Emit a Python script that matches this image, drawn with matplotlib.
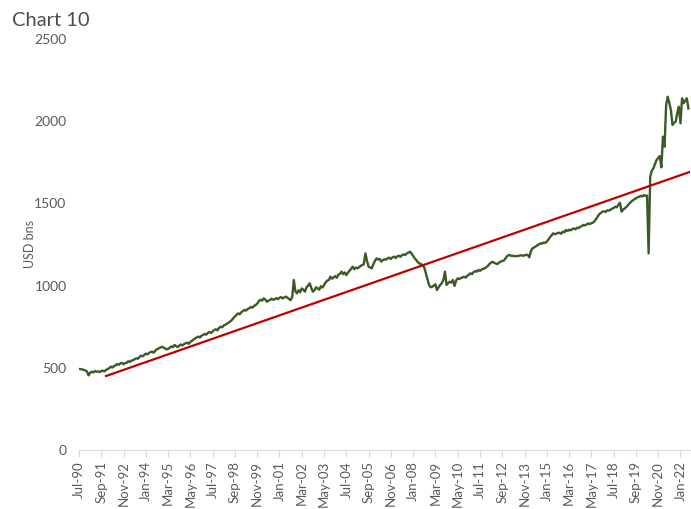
import pandas as pd
import numpy as np
import matplotlib
matplotlib.use('Agg')
import matplotlib.pyplot as plt

# monthly series, Jul-90 .. Jun-22 (USD bns), one row per Jul-Jun year
values = [
    493, 492, 490, 487, 484, 478, 454, 470, 476, 472, 480, 476,
    478, 474, 480, 483, 478, 487, 492, 498, 507, 502, 510, 515,
    523, 518, 526, 530, 522, 528, 531, 540, 536, 544, 547, 552,
    558, 555, 566, 574, 570, 578, 586, 582, 590, 596, 598, 592,
    605, 612, 618, 622, 628, 624, 618, 612, 615, 622, 630, 625,
    639, 632, 626, 635, 642, 636, 644, 649, 653, 646, 658, 664,
    672, 679, 685, 690, 684, 695, 700, 706, 702, 712, 718, 712,
    722, 730, 734, 728, 742, 750, 746, 758, 762, 768, 775, 781,
    790, 802, 812, 822, 831, 826, 838, 845, 852, 848, 858, 862,
    870, 866, 876, 882, 890, 905, 914, 908, 922, 916, 902, 908,
    912, 920, 914, 916, 924, 918, 926, 930, 922, 928, 933, 926,
    918, 912, 930, 1034, 965, 953, 972, 960, 983, 975, 963, 990,
    1000, 1014, 985, 963, 972, 990, 983, 975, 996, 988, 1004, 1020,
    1030, 1034, 1054, 1042, 1050, 1058, 1048, 1066, 1072, 1085, 1070, 1080,
    1064, 1078, 1090, 1102, 1115, 1100, 1110, 1105, 1112, 1120, 1125, 1130,
    1196, 1150, 1115, 1110, 1105, 1130, 1150, 1166, 1158, 1162, 1146, 1155,
    1160, 1158, 1166, 1170, 1162, 1172, 1176, 1168, 1178, 1182, 1175, 1185,
    1190, 1186, 1196, 1200, 1206, 1195, 1180, 1166, 1155, 1142, 1135, 1130,
    1125, 1110, 1075, 1040, 1004, 990, 993, 1000, 1008, 973, 990, 1004,
    1015, 1034, 1085, 1004, 1015, 1024, 1018, 1034, 998, 1030, 1044, 1040,
    1046, 1050, 1054, 1048, 1060, 1066, 1075, 1070, 1082, 1088, 1085, 1095,
    1090, 1098, 1102, 1105, 1112, 1120, 1132, 1140, 1145, 1138, 1134, 1131,
    1140, 1146, 1150, 1152, 1165, 1178, 1186, 1184, 1180, 1182, 1178, 1180,
    1180, 1183, 1185, 1181, 1184, 1188, 1186, 1172, 1210, 1227, 1232, 1238,
    1245, 1250, 1257, 1255, 1262, 1260, 1267, 1280, 1295, 1305, 1318, 1312,
    1316, 1320, 1322, 1315, 1328, 1324, 1338, 1332, 1340, 1336, 1344, 1348,
    1342, 1352, 1350, 1358, 1362, 1369, 1366, 1372, 1378, 1374, 1380, 1383,
    1392, 1405, 1420, 1435, 1442, 1450, 1452, 1448, 1458, 1456, 1462, 1468,
    1472, 1480, 1476, 1492, 1504, 1450, 1462, 1470, 1478, 1490, 1500, 1510,
    1518, 1525, 1530, 1537, 1540, 1546, 1542, 1551, 1545, 1548, 1196, 1662,
    1700, 1713, 1740, 1764, 1776, 1788, 1719, 1906, 1845, 2098, 2149, 2110,
    2068, 1977, 1990, 1997, 2050, 2088, 1987, 2139, 2109, 2125, 2139, 2078,
]

# linear trend: start month index/value and end month index/value
trend_x = [17, 384]
trend_y = [450, 1692]

dates = pd.date_range('1990-07-01', periods=len(values), freq='MS')
labels = [d.strftime('%b-%y') for d in dates]
x = np.arange(len(values))

grey = '#595959'
plt.rcParams['font.family'] = ['Lato', 'DejaVu Sans']

fig = plt.figure(figsize=(6.91, 5.09), dpi=100)
ax = fig.add_axes([79 / 691, 59 / 509, 611 / 691, 411 / 509])

ax.plot(x, values, color='#3b5a26', lw=1.7, solid_joinstyle='round')
ax.plot(trend_x, trend_y, color='#c00000', lw=1.6)

ax.set_xlim(0, 384)
ax.set_ylim(0, 2500)
ax.set_yticks(range(0, 2501, 500))

tick_pos = x[::14]
ax.set_xticks(tick_pos)
ax.set_xticklabels([labels[i] for i in tick_pos], rotation=90)

for s in ['top', 'right', 'left']:
    ax.spines[s].set_visible(False)
ax.spines['bottom'].set_color('#d9d9d9')
ax.tick_params(axis='x', colors='#d9d9d9', length=5, labelcolor=grey, labelsize=9.5, pad=3)
ax.tick_params(axis='y', length=0, labelcolor=grey, labelsize=10, pad=9)

ax.set_ylabel('USD bns', color=grey, fontsize=9, labelpad=-1)
fig.text(12 / 691, 1 - 20 / 509, 'Chart 10', fontsize=14.5,
         color='#4d4d4d', va='center', ha='left')

fig.savefig('out.png', dpi=100)
